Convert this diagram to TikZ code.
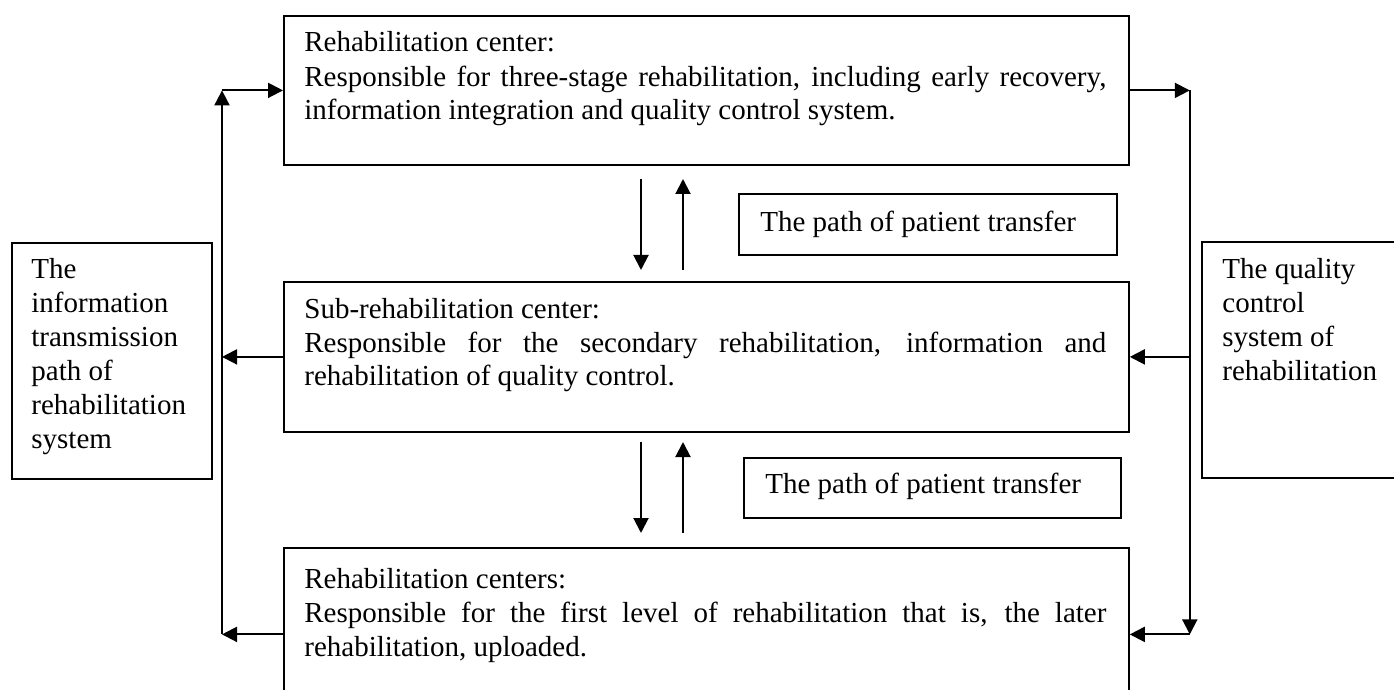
\documentclass[tikz,border=0pt]{standalone}
\usepackage{fontspec}
\setmainfont{Liberation Serif}
\usetikzlibrary{arrows.meta}
\begin{document}
\begin{tikzpicture}[x=0.5pt,y=-0.5pt,
  box/.style={draw,line width=0.9pt,rectangle,inner sep=0pt,anchor=north west},
  txt/.style={inner sep=0pt,anchor=base west,align=left,font=\fontsize{14.5pt}{17pt}\selectfont},
  arr/.style={line width=1pt,-{Triangle[length=7.5pt,width=7.5pt]}}]
\clip (0,0) rectangle (1394,690);
% boxes
\node[box,minimum width=422.5pt,minimum height=74.5pt] (top) at (283,15) {};
\node[box,minimum width=422.5pt,minimum height=75pt] (sub) at (283,281) {};
\node[box,minimum width=422.5pt,minimum height=86.5pt] (bot) at (283,547) {};
\node[box,minimum width=100pt,minimum height=118pt] (left) at (11,242) {};
\node[box,minimum width=110pt,minimum height=118pt] (right) at (1201,241) {};
\node[box,minimum width=189pt,minimum height=30.5pt] (p1) at (738,193) {};
\node[box,minimum width=188.5pt,minimum height=30pt] (p2) at (743,457) {};
% texts (anchor = baseline of last line)
\node[txt] (toptxt) at (304,120) {Rehabilitation center:\\\makebox[401pt][s]{Responsible for three-stage rehabilitation, including early recovery,}\\information integration and quality control system.};
\node[txt] (subtxt) at (304,386) {Sub-rehabilitation center:\\\makebox[401pt][s]{Responsible for the secondary rehabilitation, information and}\\rehabilitation of quality control.};
\node[txt] (bottxt) at (304,656) {Rehabilitation centers:\\\makebox[401pt][s]{Responsible for the first level of rehabilitation that is, the later}\\rehabilitation, uploaded.};
\node[txt] (lefttxt) at (31,448) {The\\information\\transmission\\path of\\rehabilitation\\system};
\node[txt] (righttxt) at (1222,380) {The quality\\control\\system of\\rehabilitation};
\node[txt] (p1txt) at (760,232) {The path of patient transfer};
\node[txt] (p2txt) at (765,493) {The path of patient transfer};
% connector points
\path (top.west) ++(-61,0) coordinate (Lt);
\path (sub.west) ++(-61,0) coordinate (Ls);
\path (bot.west) ++(-61,0) coordinate (Lb);
\path (top.east) ++(60,0) coordinate (Rt);
\path (sub.east) ++(60,0) coordinate (Rs);
\path (bot.east) ++(60,0) coordinate (Rb);
% left side
\draw[arr] (Lb) -- (Lt);
\draw[arr] (Lt) -- (top.west);
\draw[arr] (sub.west) -- (Ls);
\draw[arr] (bot.west) -- (Lb);
% right side
\draw[arr] (top.east) -- (Rt);
\draw[arr] (Rt) -- (Rb);
\draw[arr] (Rs) -- (sub.east);
\draw[arr] (Rb) -- (bot.east);
% patient transfer arrows
\coordinate (a1) at (641,179);
\coordinate (a2) at (641,270);
\coordinate (b1) at (683,270);
\coordinate (b2) at (683,179);
\coordinate (c1) at (641,442);
\coordinate (c2) at (641,533);
\coordinate (d1) at (683,533);
\coordinate (d2) at (683,442);
\draw[arr] (a1) -- (a2);
\draw[arr] (b1) -- (b2);
\draw[arr] (c1) -- (c2);
\draw[arr] (d1) -- (d2);
\end{tikzpicture}
\end{document}
